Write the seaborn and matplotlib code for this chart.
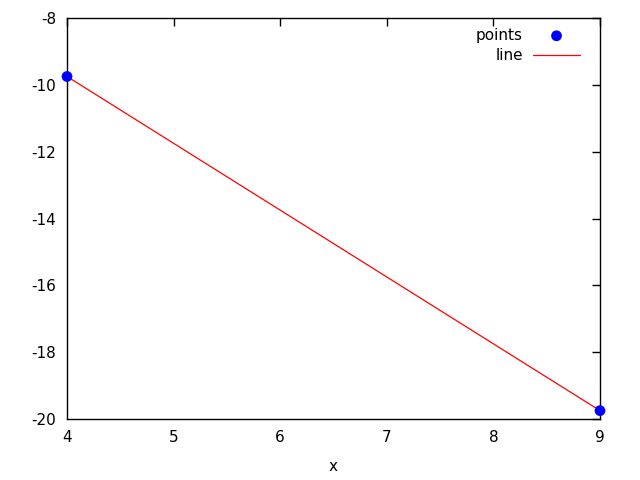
import matplotlib
matplotlib.use("Agg")
import matplotlib.pyplot as plt
import seaborn as sns
import pandas as pd

x_points = [4, 9]
y_points = [-9.75, -19.75]
x_line = [4, 9]
y_line = [-9.75, -19.75]
x_ticks = [4, 5, 6, 7, 8, 9]
y_ticks = [-20, -18, -16, -14, -12, -10, -8]

sns.set_style("white")
plt.rcParams['font.family'] = ['DejaVu Sans']
plt.rcParams['font.size'] = 11
plt.rcParams['text.color'] = 'black'
plt.rcParams['axes.labelcolor'] = 'black'
plt.rcParams['xtick.color'] = 'black'
plt.rcParams['ytick.color'] = 'black'

fig = plt.figure(figsize=(6.4, 4.8), dpi=100)
ax = fig.add_axes([67/640, 61/480, 533/640, 401/480])

df_line = pd.DataFrame({"x": x_line, "y": y_line})
df_pts = pd.DataFrame({"x": x_points, "y": y_points})

sns.lineplot(data=df_line, x="x", y="y", ax=ax, color="red", linewidth=0.9, label="line")
sns.scatterplot(data=df_pts, x="x", y="y", ax=ax, color="blue", s=60, edgecolor="none",
                label="points", zorder=5, clip_on=False)

ax.set_xlim(4, 9)
ax.set_ylim(-20, -8)
ax.set_xticks(x_ticks)
ax.set_yticks(y_ticks)
ax.set_yticklabels([str(v) for v in y_ticks])
ax.set_xlabel("x", fontsize=11, labelpad=10)
ax.set_ylabel("")
ax.tick_params(direction="in", top=True, right=True, length=6, width=1, labelsize=11, pad=8)
for s in ax.spines.values():
    s.set_visible(True)
    s.set_color("black")
    s.set_linewidth(1)

handles, labels = ax.get_legend_handles_labels()
order = [labels.index("points"), labels.index("line")]
ax.legend([handles[i] for i in order], [labels[i] for i in order], loc="upper right",
          bbox_to_anchor=(1 - 3/533, 1 + 7/401),
          frameon=False, markerfirst=False, fontsize=11, handlelength=3.1,
          handletextpad=0.65, borderaxespad=0.9, borderpad=0.2, labelspacing=0.33)

fig.savefig("out.png", dpi=100)
